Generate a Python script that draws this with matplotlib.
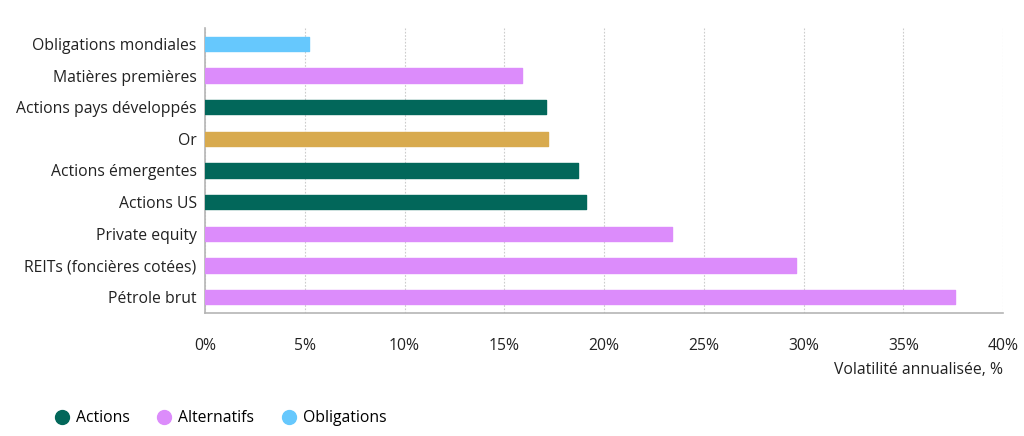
import matplotlib.pyplot as plt
from matplotlib.lines import Line2D
from matplotlib.ticker import FuncFormatter

plt.rcParams['font.family'] = ['Open Sans', 'DejaVu Sans']

# data, top to bottom
labels = ['Obligations mondiales', 'Matières premières', 'Actions pays développés',
          'Or', 'Actions émergentes', 'Actions US', 'Private equity',
          'REITs (foncières cotées)', 'Pétrole brut']
values = [5.2, 15.9, 17.1, 17.2, 18.7, 19.1, 23.4, 29.6, 37.6]
groups = ['Obligations', 'Alternatifs', 'Actions', 'Or', 'Actions', 'Actions',
          'Alternatifs', 'Alternatifs', 'Alternatifs']
legend_groups = ['Actions', 'Alternatifs', 'Obligations']

colors = {'Actions': '#02675a', 'Alternatifs': '#dc8cfb',
          'Obligations': '#66c8fd', 'Or': '#d8aa4e'}

fs = 11.3

fig = plt.figure(figsize=(10.24, 4.36), dpi=100)
ax = fig.add_axes([205 / 1024, 1 - 313 / 436, 798 / 1024, 285 / 436])

ypos = list(range(len(labels)))
bar_colors = [colors[g] for g in groups]
ax.barh(ypos, values, height=0.46, color=bar_colors, edgecolor=bar_colors,
        linewidth=1, joinstyle='round', zorder=3)

ax.set_xlim(0, 40)
ax.set_ylim(len(labels) - 0.5, -0.5)
ax.set_xticks(range(0, 41, 5))
ax.xaxis.set_major_formatter(FuncFormatter(lambda v, p: f'{int(v)}%'))
ax.set_yticks(ypos)
ax.set_yticklabels(labels)

ax.grid(axis='x', color='#cccccc', linestyle=(0, (1.5, 1.5)), linewidth=0.8, zorder=0)
ax.tick_params(axis='both', length=0, labelsize=fs, colors='#222222')
ax.tick_params(axis='x', pad=18)
ax.tick_params(axis='y', pad=6)

for s in ['top', 'right']:
    ax.spines[s].set_visible(False)
ax.spines['left'].set_color('#b5b5b5')
ax.spines['bottom'].set_color('#b5b5b5')
ax.spines['left'].set_linewidth(1.2)
ax.spines['bottom'].set_linewidth(1.2)

fig.text(1003 / 1024, 1 - 370 / 436, 'Volatilité annualisée, %', ha='right', va='center',
         fontsize=fs, color='#222222')

handles = [Line2D([], [], marker='o', linestyle='none', markersize=10,
                  markerfacecolor=colors[g], markeredgecolor=colors[g]) for g in legend_groups]
fig.legend(handles, legend_groups, loc='center left', bbox_to_anchor=(38 / 1024, 1 - 418 / 436),
           ncol=3, frameon=False, fontsize=fs, handletextpad=0.3, columnspacing=1.6,
           handlelength=1.2)

fig.savefig('out.png', dpi=100)
